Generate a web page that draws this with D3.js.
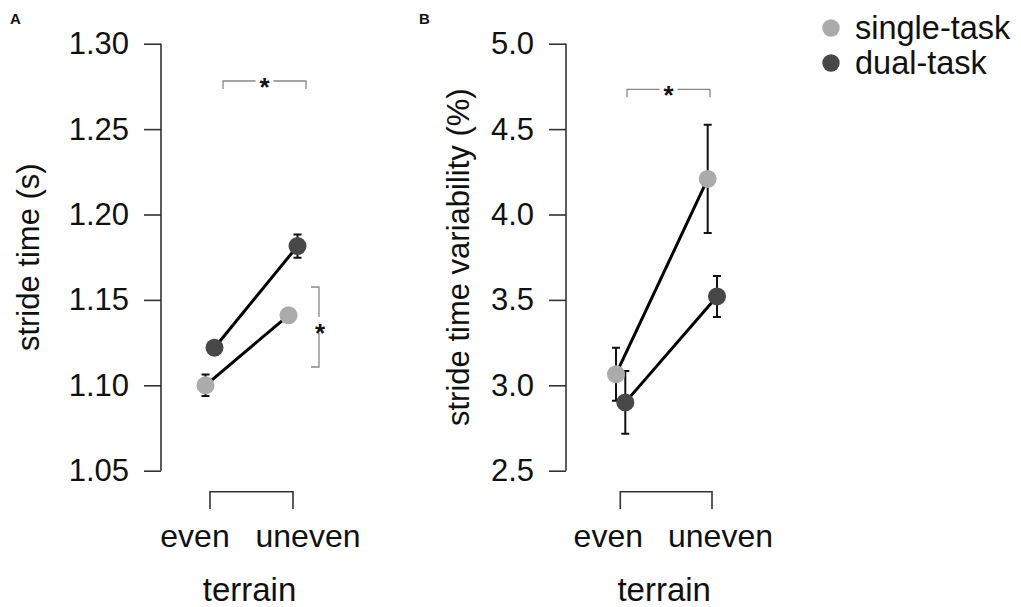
<!DOCTYPE html>
<html>
<head>
<meta charset="utf-8">
<script src="https://cdn.jsdelivr.net/npm/d3@7"></script>
<style>
  body { margin: 0; background: #fff; }
  text { font-family: "Liberation Sans", Arial, sans-serif; }
</style>
</head>
<body>
<svg id="chart" width="1021" height="607"></svg>
<script>
// ---- data ----
const terrain = ["even", "uneven"];
const conditions = ["single-task", "dual-task"];
const colors = ["#ababab", "#474747"];

// Panel A: stride time (s)
const strideSingle = [1.100, 1.141];
const strideSingleErr = [0.0063, 0.003];
const strideDual = [1.122, 1.1815];
const strideDualErr = [0.004, 0.0068];
const strideTicks = [1.05, 1.10, 1.15, 1.20, 1.25, 1.30];

// Panel B: stride time variability (%)
const varSingle = [3.065, 4.208];
const varSingleErr = [0.155, 0.317];
const varDual = [2.90, 3.52];
const varDualErr = [0.183, 0.12];
const varTicks = [2.5, 3.0, 3.5, 4.0, 4.5, 5.0];

const svg = d3.select("#chart");

function panel(cfg) {
  const g = svg.append("g");
  const y = d3.scaleLinear().domain(cfg.domain).range([470.7, 43.7]);
  const x = d3.scalePoint().domain(terrain).range(cfg.xRange);
  const off = d3.scaleOrdinal().domain(conditions).range(cfg.offsets);

  // y axis
  const yAxis = d3.axisLeft(y).tickValues(cfg.ticks).tickFormat(d3.format(cfg.fmt))
    .tickSize(17).tickPadding(15);
  const ya = g.append("g").attr("transform", `translate(${cfg.axisX},0)`).call(yAxis);
  ya.select(".domain").attr("d", `M-0,${y(cfg.domain[0])}H0V${y(cfg.domain[1])}H-0`)
    .attr("stroke", "#333").attr("stroke-width", 1.6);
  ya.selectAll(".tick line").attr("stroke", "#333").attr("stroke-width", 1.6);
  ya.selectAll(".tick text").attr("font-size", 31).attr("fill", "#111")
    .attr("font-family", "Liberation Sans, Arial, sans-serif");

  // y label
  g.append("text")
    .attr("transform", `translate(${cfg.ylabX},${(y(cfg.domain[0]) + y(cfg.domain[1])) / 2}) rotate(-90)`)
    .attr("text-anchor", "middle").attr("dominant-baseline", "central")
    .attr("font-size", 31).attr("fill", "#111").text(cfg.ylab);

  // x bracket axis
  const xb = g.append("g");
  xb.append("path")
    .attr("d", `M${x("even")},509V491.7H${x("uneven")}V509`)
    .attr("fill", "none").attr("stroke", "#333").attr("stroke-width", 1.6);
  xb.selectAll("text.xl").data(terrain).join("text")
    .attr("x", (d, i) => x(d) + cfg.labelShift[i])
    .attr("y", 547).attr("text-anchor", "middle")
    .attr("font-size", 32).attr("fill", "#111").text(d => d);
  g.append("text").attr("x", (x("even") + x("uneven")) / 2 - 2).attr("y", 601)
    .attr("text-anchor", "middle").attr("font-size", 33).attr("fill", "#111").text("terrain");

  const series = [
    { cond: conditions[0], vals: cfg.single, errs: cfg.singleErr, color: colors[0] },
    { cond: conditions[1], vals: cfg.dual, errs: cfg.dualErr, color: colors[1] }
  ];

  // lines
  const line = d3.line().x((d, i) => x(terrain[i]) + off(d.cond)).y(d => y(d.v));
  series.forEach(s => {
    g.append("path")
      .datum(s.vals.map(v => ({ v, cond: s.cond })))
      .attr("d", line).attr("fill", "none").attr("stroke", "#000").attr("stroke-width", 3);
  });
  // error bars
  series.forEach(s => {
    s.vals.forEach((v, i) => {
      const cx = x(terrain[i]) + off(s.cond);
      const y1 = y(v + s.errs[i]), y0 = y(v - s.errs[i]);
      g.append("path")
        .attr("d", `M${cx - 4},${y1}H${cx + 4}M${cx},${y1}V${y0}M${cx - 4},${y0}H${cx + 4}`)
        .attr("fill", "none").attr("stroke", "#111").attr("stroke-width", 2);
    });
  });
  // points
  series.forEach(s => {
    g.selectAll(null).data(s.vals).join("circle")
      .attr("cx", (d, i) => x(terrain[i]) + off(s.cond))
      .attr("cy", d => y(d)).attr("r", 9).attr("fill", s.color);
  });

  // significance brackets
  cfg.sig.forEach(sb => {
    if (sb.type === "h") {
      g.append("path")
        .attr("d", `M${sb.x0},${sb.y + 8}V${sb.y}H${sb.x1}V${sb.y + 8}`)
        .attr("fill", "none").attr("stroke", "#888").attr("stroke-width", 1.3);
      g.append("rect").attr("x", (sb.x0 + sb.x1) / 2 - 9).attr("y", sb.y - 3).attr("width", 18).attr("height", 6).attr("fill", "#fff");
      g.append("text").attr("x", (sb.x0 + sb.x1) / 2).attr("y", sb.y + 15)
        .attr("text-anchor", "middle").attr("font-size", 26).attr("font-weight", "bold")
        .attr("fill", "#111").text("*");
    } else {
      g.append("path")
        .attr("d", `M${sb.x - 8},${sb.y0}H${sb.x}V${sb.y1}H${sb.x - 8}`)
        .attr("fill", "none").attr("stroke", "#888").attr("stroke-width", 1.3);
      g.append("rect").attr("x", sb.x - 2).attr("y", (sb.y0 + sb.y1) / 2 - 10).attr("width", 4).attr("height", 16).attr("fill", "#fff");
      g.append("text").attr("x", sb.x + 1).attr("y", (sb.y0 + sb.y1) / 2 + 15)
        .attr("text-anchor", "middle").attr("font-size", 26).attr("font-weight", "bold")
        .attr("fill", "#111").text("*");
    }
  });

  // panel letter
  g.append("text").attr("x", cfg.letterX).attr("y", 24).attr("font-size", 15)
    .attr("font-weight", "bold").attr("fill", "#111").text(cfg.letter);
}

panel({
  letter: "A", letterX: 10,
  domain: [1.05, 1.30], ticks: strideTicks, fmt: ".2f",
  axisX: 161, ylabX: 28, ylab: "stride time (s)",
  xRange: [210, 293], offsets: [-4.5, 4.5], labelShift: [-15, 15],
  single: strideSingle, singleErr: strideSingleErr, dual: strideDual, dualErr: strideDualErr,
  sig: [{ type: "h", x0: 223, x1: 306, y: 81 }, { type: "v", x: 319, y0: 287, y1: 367 }]
});

panel({
  letter: "B", letterX: 419,
  domain: [2.5, 5.0], ticks: varTicks, fmt: ".1f",
  axisX: 566, ylabX: 458, ylab: "stride time variability (%)",
  xRange: [620.3, 712], offsets: [-4.3, 5], labelShift: [-12, 8.5],
  single: varSingle, singleErr: varSingleErr, dual: varDual, dualErr: varDualErr,
  sig: [{ type: "h", x0: 627, x1: 710, y: 89.3 }]
});

// legend
const lg = svg.append("g");
lg.selectAll("circle").data(conditions).join("circle")
  .attr("cx", 831).attr("cy", (d, i) => 28 + i * 35).attr("r", 8.7)
  .attr("fill", (d, i) => colors[i]);
lg.selectAll("text").data(conditions).join("text")
  .attr("x", 855).attr("y", (d, i) => 28 + i * 35).attr("dominant-baseline", "central")
  .attr("font-size", 32.5).attr("fill", "#111").text(d => d);
</script>
</body>
</html>
